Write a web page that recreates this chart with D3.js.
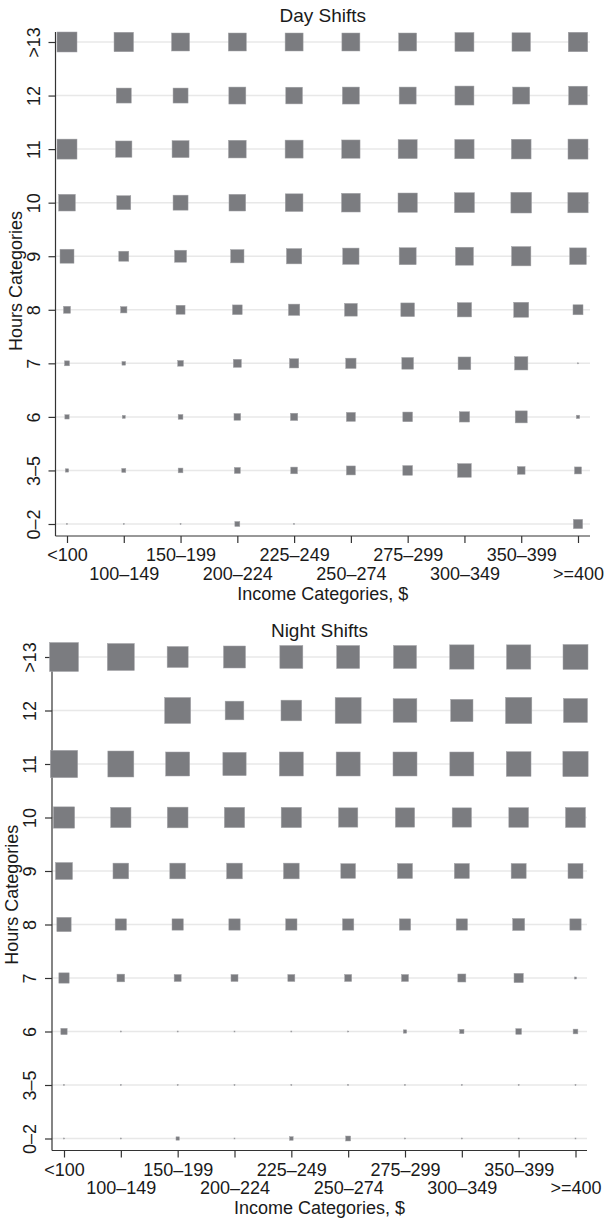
<!DOCTYPE html>
<html>
<head>
<meta charset="utf-8">
<script src="https://cdn.jsdelivr.net/npm/d3@7"></script>
<style>
  body { margin: 0; background: #fff; }
  svg { display: block; font-family: "Liberation Sans", Arial, sans-serif; }
</style>
</head>
<body>
<div id="chart"></div>
<script>
// categories
const income = ["<100", "100–149", "150–199", "200–224", "225–249",
                "250–274", "275–299", "300–349", "350–399", ">=400"];
const hours = [">13", "12", "11", "10", "9", "8", "7", "6", "3–5", "0–2"];

// estimated share of workers (%) per hours row (top to bottom) and income column
const dayShares = [
    [39.1, 37.1, 31.6, 31.6, 31.6, 31.6, 31.6, 35.3, 33.4, 37.1],
    [0, 22.0, 22.0, 28.2, 27.2, 28.2, 28.2, 35.3, 28.2, 34.1],
    [39.1, 25.9, 28.2, 30.6, 31.6, 32.7, 35.3, 36.4, 37.9, 39.1],
    [27.2, 19.1, 22.0, 27.2, 30.6, 34.1, 36.4, 39.1, 41.8, 40.2],
    [19.1, 9.8, 14.1, 17.3, 22.9, 25.9, 28.2, 31.6, 36.4, 27.2],
    [4.8, 3.9, 7.9, 9.2, 12.5, 15.8, 18.3, 20.0, 22.0, 9.8],
    [2.4, 1.3, 3.2, 6.3, 8.4, 10.4, 13.4, 15.8, 17.3, 0.1],
    [1.8, 0.9, 2.2, 4.4, 5.2, 7.9, 9.2, 10.4, 14.1, 1.1],
    [1.1, 1.6, 2.2, 3.5, 4.4, 7.9, 9.2, 18.3, 5.8, 4.8],
    [0.1, 0.1, 0.1, 2.4, 0.1, 0, 0, 0, 0, 8.4]
];

const nightShares = [
    [82.1, 71.2, 43.1, 47.3, 51.7, 51.7, 51.7, 57.7, 57.7, 61.0],
    [0, 0, 66.0, 34.1, 41.8, 66.0, 54.9, 48.6, 67.5, 56.3],
    [72.8, 66.0, 56.3, 53.0, 56.3, 56.3, 56.3, 56.3, 59.6, 62.5],
    [44.3, 40.2, 41.8, 40.2, 40.2, 36.4, 36.4, 36.4, 37.9, 39.1],
    [28.2, 24.1, 24.1, 24.1, 24.1, 21.1, 22.0, 22.0, 22.0, 22.0],
    [20.0, 12.5, 12.5, 12.5, 12.5, 12.5, 12.5, 12.5, 14.1, 12.5],
    [10.4, 5.8, 4.8, 4.8, 4.8, 4.8, 4.8, 6.3, 8.4, 0.4],
    [3.9, 0.1, 0.1, 0.1, 0.1, 0.1, 1.1, 1.8, 3.2, 2.2],
    [0.1, 0.1, 0.1, 0.1, 0.1, 0.1, 0.1, 0.1, 0.1, 0.1],
    [0.1, 0.1, 1.1, 0.1, 1.3, 2.4, 0.1, 0.1, 0.1, 0.1]
];

const width = 606,
    height = 1218;

const panels = [
    {title: "Day Shifts", data: dayShares, titleY: 22,
     left: 55.5, right: 590, top: 32, bottom: 536,
     x0: 67, x1: 578, y0: 42, y1: 524},
    {title: "Night Shifts", data: nightShares, titleY: 637,
     left: 52, right: 587, top: 645, bottom: 1150.5,
     x0: 64, x1: 575.5, y0: 657, y1: 1138.5}
];

const svg = d3.select("#chart")
    .append("svg")
    .attr("width", width)
    .attr("height", height);

// side of a square grows with the square root of the share (area ~ share)
const size = d3.scaleSqrt().domain([0, 100]).range([0, 32]);

panels.forEach(function(p) {
    const g = svg.append("g");

    const x = d3.scalePoint().domain(income).range([p.x0, p.x1]);
    const y = d3.scalePoint().domain(hours).range([p.y0, p.y1]);

    // light horizontal grid
    g.selectAll(".grid")
        .data(hours)
        .join("line")
        .attr("x1", p.left)
        .attr("x2", p.right)
        .attr("y1", d => y(d))
        .attr("y2", d => y(d))
        .attr("stroke", "#e8e8e8")
        .attr("stroke-width", 1.5);

    // axis lines
    g.append("line")
        .attr("x1", p.left).attr("x2", p.left)
        .attr("y1", p.top).attr("y2", p.bottom)
        .attr("stroke", "#333").attr("stroke-width", 1.2);
    g.append("line")
        .attr("x1", p.left).attr("x2", p.right)
        .attr("y1", p.bottom).attr("y2", p.bottom)
        .attr("stroke", "#333").attr("stroke-width", 1.2);

    // y axis ticks + rotated labels
    const yAxis = g.append("g")
        .attr("transform", `translate(${p.left},0)`)
        .call(d3.axisLeft(y).tickSize(7).tickSizeOuter(0));
    yAxis.select(".domain").remove();
    yAxis.selectAll(".tick line").attr("stroke", "#333").attr("stroke-width", 1.2);
    yAxis.selectAll(".tick text")
        .attr("x", 0)
        .attr("dy", null)
        .attr("transform", "translate(-16,0) rotate(-90)")
        .attr("text-anchor", "middle")
        .attr("fill", "#1a1a1a")
        .style("font-size", "18px");

    // x axis ticks + staggered labels
    const xAxis = g.append("g")
        .attr("transform", `translate(0,${p.bottom})`)
        .call(d3.axisBottom(x).tickSize(7).tickSizeOuter(0));
    xAxis.select(".domain").remove();
    xAxis.selectAll(".tick line").attr("stroke", "#333").attr("stroke-width", 1.2);
    xAxis.selectAll(".tick text")
        .attr("y", (d, i) => i % 2 ? 43.5 : 25)
        .attr("dy", null)
        .attr("fill", "#1a1a1a")
        .style("font-size", "18px");

    // squares
    const cells = p.data.flatMap((row, i) =>
        row.map((v, j) => ({hour: hours[i], inc: income[j], v: v})));

    g.selectAll("rect.cell")
        .data(cells.filter(d => d.v > 0))
        .join("rect")
        .attr("class", "cell")
        .attr("x", d => x(d.inc) - size(d.v) / 2)
        .attr("y", d => y(d.hour) - size(d.v) / 2)
        .attr("width", d => size(d.v))
        .attr("height", d => size(d.v))
        .attr("fill", "#7b7c80")
        .attr("stroke", "#a3a4a7")
        .attr("stroke-width", 0.5);

    // panel title
    g.append("text")
        .attr("x", (p.left + p.right) / 2)
        .attr("y", p.titleY)
        .attr("text-anchor", "middle")
        .attr("fill", "#1a1a1a")
        .style("font-size", "19px")
        .text(p.title);

    // axis titles
    g.append("text")
        .attr("x", (p.left + p.right) / 2)
        .attr("y", p.bottom + 63.5)
        .attr("text-anchor", "middle")
        .attr("fill", "#1a1a1a")
        .style("font-size", "18px")
        .text("Income Categories, $");

    g.append("text")
        .attr("transform", `translate(${p.left - 34},${(p.top + p.bottom) / 2 - 3}) rotate(-90)`)
        .attr("text-anchor", "middle")
        .attr("fill", "#1a1a1a")
        .style("font-size", "18px")
        .text("Hours Categories");
});
</script>
</body>
</html>
